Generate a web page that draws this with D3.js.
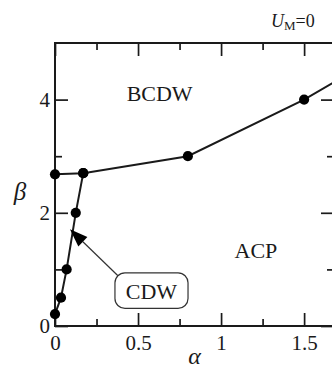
<!DOCTYPE html>
<html>
<head>
<meta charset="utf-8">
<script src="https://cdn.jsdelivr.net/npm/d3@7"></script>
<style>
  html, body { margin: 0; padding: 0; background: #fff; }
  svg { display: block; }
  svg text { font-family: "Liberation Serif", "DejaVu Serif", serif; fill: #1a1a1a; }
</style>
</head>
<body>
<svg id="chart" width="332" height="367"></svg>
<script>
// Phase boundary in the (alpha, beta) plane at U_M = 0
const cdwAlpha = [0, 0.036, 0.07, 0.125, 0.17];
const cdwBeta  = [0.21, 0.5, 1.0, 2.0, 2.7];
const bcdwAlpha = [0, 0.17, 0.8, 1.5, 2.0];
const bcdwBeta  = [2.68, 2.7, 3.0, 4.0, 4.85];

const xMajorTicks = [0, 0.5, 1, 1.5];
const xMinorTicks = [0.25, 0.75, 1.25];
const yMajorTicks = [0, 2, 4];
const yMinorTicks = [1, 3];

const serif = "Liberation Serif, DejaVu Serif, serif";
const svg = d3.select("#chart");
const plotLeft = 55, plotTop = 43, plotRight = 334, plotBottom = 326;

const x = d3.scaleLinear().domain([0, 1.68]).range([plotLeft, plotRight]);
const y = d3.scaleLinear().domain([0, 5]).range([plotBottom, plotTop]);

const ink = "#1a1a1a";
const fmt = d => d === 0 ? "0" : d3.format("~g")(d);

function styleAxis(g, showLabels) {
  g.attr("font-family", serif);
  g.select(".domain").remove();
  g.selectAll(".tick line").attr("stroke", ink).attr("stroke-width", 1.7);
  g.selectAll(".tick text")
    .attr("font-family", serif)
    .attr("font-size", 21)
    .attr("fill", ink);
  if (!showLabels) g.selectAll(".tick text").remove();
}

// bottom axis
svg.append("g").attr("transform", `translate(0,${plotBottom})`)
  .call(d3.axisBottom(x).tickValues(xMajorTicks).tickSize(-13).tickFormat(fmt))
  .call(g => styleAxis(g, true))
  .call(g => g.selectAll(".tick text").attr("dy", "0.71em").attr("y", 9));
svg.append("g").attr("transform", `translate(0,${plotBottom})`)
  .call(d3.axisBottom(x).tickValues(xMinorTicks).tickSize(-7))
  .call(g => styleAxis(g, false));
// top axis
svg.append("g").attr("transform", `translate(0,${plotTop})`)
  .call(d3.axisTop(x).tickValues(xMajorTicks).tickSize(-13))
  .call(g => styleAxis(g, false));
svg.append("g").attr("transform", `translate(0,${plotTop})`)
  .call(d3.axisTop(x).tickValues(xMinorTicks).tickSize(-7))
  .call(g => styleAxis(g, false));
// left axis
svg.append("g").attr("transform", `translate(${plotLeft},0)`)
  .call(d3.axisLeft(y).tickValues(yMajorTicks).tickSize(-13).tickFormat(fmt))
  .call(g => styleAxis(g, true))
  .call(g => g.selectAll(".tick text").attr("x", -5));
svg.append("g").attr("transform", `translate(${plotLeft},0)`)
  .call(d3.axisLeft(y).tickValues(yMinorTicks).tickSize(-7))
  .call(g => styleAxis(g, false));
// right axis
svg.append("g").attr("transform", `translate(${plotRight},0)`)
  .call(d3.axisRight(y).tickValues(yMajorTicks).tickSize(-13))
  .call(g => styleAxis(g, false));
svg.append("g").attr("transform", `translate(${plotRight},0)`)
  .call(d3.axisRight(y).tickValues(yMinorTicks).tickSize(-7))
  .call(g => styleAxis(g, false));

// frame
svg.append("rect")
  .attr("x", plotLeft).attr("y", plotTop)
  .attr("width", plotRight - plotLeft).attr("height", plotBottom - plotTop)
  .attr("fill", "none").attr("stroke", ink).attr("stroke-width", 2);

// clip for boundary curves
svg.append("clipPath").attr("id", "plotClip")
  .append("rect").attr("x", plotLeft - 6).attr("y", plotTop)
  .attr("width", plotRight - plotLeft + 6).attr("height", plotBottom - plotTop + 6);

const plot = svg.append("g").attr("clip-path", "url(#plotClip)");
const line = d3.line().x(d => x(d[0])).y(d => y(d[1]));

const cdw = d3.zip(cdwAlpha, cdwBeta);
const bcdw = d3.zip(bcdwAlpha, bcdwBeta);

[cdw, bcdw].forEach(series => {
  plot.append("path").datum(series)
    .attr("d", line)
    .attr("fill", "none").attr("stroke", ink).attr("stroke-width", 2);
  plot.selectAll(null).data(series).join("circle")
    .attr("cx", d => x(d[0])).attr("cy", d => y(d[1]))
    .attr("r", 5.1).attr("fill", "#000");
});

// region labels
svg.append("text").attr("x", x(0.63)).attr("y", y(4.0) + 1)
  .attr("font-family", serif)
  .attr("text-anchor", "middle").attr("font-size", 22).text("BCDW");
svg.append("text").attr("x", x(1.21)).attr("y", y(1.2))
  .attr("font-family", serif)
  .attr("text-anchor", "middle").attr("font-size", 22).text("ACP");

// CDW callout box and arrow
const boxX0 = x(0.361), boxX1 = x(0.801), boxY0 = y(0.94), boxY1 = y(0.31);
const tipX = x(0.09), tipY = y(1.71);
const dx = tipX - boxX0, dy = tipY - boxY0;
const len = Math.hypot(dx, dy), ux = dx / len, uy = dy / len;
const headLen = 18, headHalf = 6.5;
const baseX = tipX - ux * headLen, baseY = tipY - uy * headLen;
svg.append("line")
  .attr("x1", boxX0 + 3).attr("y1", boxY0 + 3).attr("x2", baseX).attr("y2", baseY)
  .attr("stroke", "#333").attr("stroke-width", 1.2);
svg.append("path")
  .attr("d", `M${tipX},${tipY}L${baseX - uy * headHalf},${baseY + ux * headHalf}L${baseX + uy * headHalf},${baseY - ux * headHalf}Z`)
  .attr("fill", "#000");
svg.append("rect")
  .attr("x", boxX0).attr("y", boxY0)
  .attr("width", boxX1 - boxX0).attr("height", boxY1 - boxY0)
  .attr("rx", 10).attr("ry", 10)
  .attr("fill", "#fff").attr("stroke", "#333").attr("stroke-width", 1.2);
svg.append("text").attr("x", (boxX0 + boxX1) / 2).attr("y", boxY1 - 9)
  .attr("font-family", serif)
  .attr("text-anchor", "middle").attr("font-size", 22).text("CDW");

// axis titles
svg.append("text").attr("x", 20).attr("y", 200)
  .attr("font-family", serif)
  .attr("text-anchor", "middle").attr("font-size", 25).attr("font-style", "italic").text("β");
svg.append("text").attr("x", (plotLeft + plotRight) / 2).attr("y", 364)
  .attr("font-family", serif)
  .attr("text-anchor", "middle").attr("font-size", 24).attr("font-style", "italic").text("α");

// parameter annotation
const um = svg.append("text").attr("x", 271).attr("y", 27).attr("font-size", 18)
  .attr("font-family", serif);
um.append("tspan").attr("font-style", "italic").text("U");
um.append("tspan").attr("font-size", 13).attr("dy", 3).text("M");
um.append("tspan").attr("dy", -3).text("=0");
</script>
</body>
</html>
